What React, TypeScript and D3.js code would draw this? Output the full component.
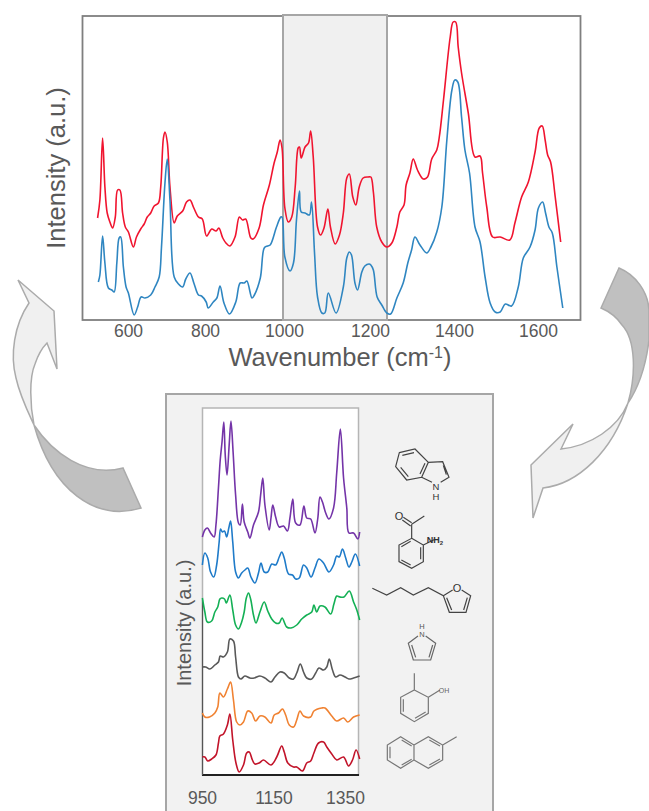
import React, { useEffect, useRef } from 'react';
import * as d3 from 'd3';

// top panel, values
const redWave = [521,527,534,540,546,553,560,567,573,579,586,593,601,614,622,633,642,650,659,668,679,685,692,696,702,709,720,728,742,752,761,771,783,793,804,817,828,835,845,853,863,876,887,895,903,916,922,937,948,963,975,983,990,995,1002,1010,1018,1026,1033,1036,1040,1049,1057,1062,1068,1078,1085,1093,1102,1108,1119,1129,1138,1146,1152,1160,1167,1175,1184,1196,1202,1208,1216,1228,1240,1252,1264,1271,1281,1286,1295,1303,1313,1327,1337,1347,1359,1365,1375,1391,1398,1404,1410,1418,1434,1450,1462,1468,1478,1492,1510,1533,1545,1561,1577,1593,1603,1610,1617,1623,1630,1641,1654];
const redIntensity = [102,120,182,133,107,98,92,103,130,130,107,93,88,73,83,91,96,103,107,114,117,133,182,188,178,133,97,104,109,118,120,112,103,101,84,91,89,92,82,77,74,83,103,100,101,82,81,92,115,135,157,168,180,172,112,98,103,133,172,173,162,173,177,189,163,93,85,92,111,93,76,85,107,142,146,123,115,133,142,143,143,128,93,78,73,77,93,108,115,135,147,161,150,141,143,161,170,183,220,283,298,298,273,247,207,163,164,147,113,83,83,80,97,123,138,168,192,194,180,165,158,123,78];
const blueWave = [523,527,534,540,549,558,564,571,577,581,588,595,601,616,625,634,644,659,670,681,687,696,702,709,720,731,742,750,761,771,783,791,803,808,821,830,838,848,862,878,889,899,906,919,925,940,950,958,965,981,992,995,1002,1014,1022,1029,1036,1040,1049,1059,1064,1071,1078,1088,1095,1103,1121,1138,1146,1152,1157,1165,1171,1181,1188,1198,1202,1208,1217,1228,1240,1249,1264,1279,1290,1299,1307,1319,1335,1345,1359,1371,1383,1395,1402,1409,1418,1426,1437,1450,1462,1474,1486,1498,1510,1522,1537,1553,1565,1581,1593,1601,1611,1618,1626,1634,1645,1659];
const blueIntensity = [38,45,84,57,32,30,28,57,82,83,53,33,27,5,13,23,22,25,33,43,73,137,161,120,43,36,33,41,47,37,25,24,18,12,18,22,34,17,6,18,37,37,39,22,25,42,72,74,75,93,103,103,63,49,57,100,129,108,107,105,118,67,23,7,7,27,7,33,62,68,65,37,30,48,54,56,55,50,23,15,7,6,22,37,57,70,83,75,67,73,88,113,180,230,240,238,203,170,147,93,78,43,17,8,8,16,14,33,62,73,90,112,118,107,93,87,53,12];
const topTicks = [600,800,1000,1200,1400,1600];

// lower panel, stacked spectra
const purpleWave = [951,958,965,974,984,989,996,1001,1006,1011,1015,1020,1026,1031,1037,1044,1052,1057,1063,1068,1078,1084,1094,1108,1114,1120,1126,1138,1143,1148,1156,1166,1178,1189,1196,1204,1212,1224,1235,1243,1254,1266,1274,1280,1287,1296,1305,1318,1327,1337,1346,1355,1361,1374,1386,1391];
const purpleIntensity = [238,245,247,242,238,250,287,315,333,353,320,300,330,354,323,280,252,250,271,253,243,237,250,263,280,297,270,245,257,270,258,248,249,244,257,276,252,250,269,257,256,242,257,278,273,262,256,267,303,346,297,267,242,242,236,243];
const midBlueWave = [951,958,966,974,983,991,998,1002,1007,1013,1019,1025,1030,1036,1044,1052,1061,1070,1078,1087,1098,1108,1115,1124,1134,1145,1156,1166,1173,1180,1192,1203,1212,1222,1234,1243,1255,1266,1277,1290,1305,1318,1327,1334,1343,1352,1361,1369,1379,1391];
const midBlueIntensity = [210,222,217,203,198,210,233,246,243,244,238,247,254,233,203,197,202,205,207,198,192,202,212,203,203,211,210,218,223,217,201,200,196,197,210,207,198,207,216,212,203,210,219,218,226,217,208,213,221,209];
const greenWave = [951,958,965,977,986,994,1000,1005,1013,1018,1028,1036,1044,1052,1061,1068,1074,1080,1086,1094,1101,1112,1124,1134,1145,1156,1166,1174,1187,1199,1215,1229,1243,1257,1263,1271,1280,1294,1310,1319,1327,1336,1347,1362,1374,1383,1391];
const greenIntensity = [177,163,153,154,163,168,176,177,176,172,180,165,150,146,153,163,177,182,176,160,152,163,173,164,156,152,152,157,148,147,150,156,160,163,170,163,169,168,161,171,179,178,178,184,173,165,155];
const grayWave = [951,960,972,986,996,1001,1010,1021,1028,1038,1044,1052,1059,1070,1084,1096,1112,1126,1143,1154,1168,1180,1194,1206,1215,1225,1234,1243,1257,1268,1277,1290,1299,1306,1315,1324,1336,1350,1361,1374,1391];
const grayIntensity = [108,108,106,110,113,119,118,123,136,134,118,98,96,99,97,97,99,97,93,98,103,102,97,96,102,111,103,97,96,102,107,105,108,116,105,98,100,98,96,97,99];
const orangeWave = [951,958,971,986,994,1000,1010,1021,1030,1038,1047,1056,1066,1078,1089,1100,1112,1126,1143,1152,1164,1175,1184,1194,1206,1215,1224,1234,1254,1263,1285,1294,1313,1327,1346,1358,1374,1391];
const orangeIntensity = [62,58,58,62,68,82,78,86,93,75,53,50,53,64,62,54,59,58,52,60,62,66,60,50,48,55,64,59,58,64,67,67,59,54,57,53,58,60];
const darkRedWave = [951,958,966,977,989,996,1000,1010,1021,1028,1036,1045,1054,1066,1075,1082,1091,1098,1110,1122,1143,1159,1173,1180,1190,1206,1215,1231,1243,1254,1263,1276,1290,1299,1313,1327,1346,1360,1371,1381,1391];
const darkRedIntensity = [18,18,14,16,20,32,39,41,50,61,35,12,3,10,22,23,15,11,12,15,10,18,29,23,12,8,8,4,12,14,22,32,33,28,21,15,18,9,15,25,16];
const lowerTicks = [950,1150,1350];

const topX = d3.scaleLinear().domain(topTicks).range([128, 205, 284, 370, 454, 538]);
const topY = d3.scaleLinear().domain([0, 304]).range([320, 16]);
const lowX = d3.scaleLinear().domain([950, 1350]).range([202, 345]);
const lowY = d3.scaleLinear().domain([0, 367]).range([775, 408]);

const topLine = (wave: number[], vals: number[]) =>
  d3.line<number>().x((d) => topX(d)).y((_, i) => topY(vals[i])).curve(d3.curveCatmullRom)(wave) || '';
const lowLine = (wave: number[], vals: number[]) =>
  d3.line<number>().x((d) => lowX(d)).y((_, i) => lowY(vals[i])).curve(d3.curveCatmullRom)(wave) || '';

const lowerSeries: [number[], number[], string][] = [
  [purpleWave, purpleIntensity, '#7434a8'],
  [midBlueWave, midBlueIntensity, '#1f7bc9'],
  [greenWave, greenIntensity, '#14b055'],
  [grayWave, grayIntensity, '#595959'],
  [orangeWave, orangeIntensity, '#f08232'],
  [darkRedWave, darkRedIntensity, '#c2142a'],
];

const textCol = '#595959';
const font = '"Liberation Sans", Arial, sans-serif';

// molecule sketches, in 3x crop units
function Mol({ x, y, d, col = '#444' }: { x: number; y: number; d: string; col?: string }) {
  return (
    <g transform={`translate(${x},${y}) scale(0.3333)`}>
      <path d={d} fill="none" stroke={col} strokeWidth={3.6} />
    </g>
  );
}

export default function App() {
  const topAxis = useRef<SVGGElement>(null);
  const lowAxis = useRef<SVGGElement>(null);

  useEffect(() => {
    const a = d3.select(topAxis.current!)
      .call(d3.axisBottom(topX).tickValues(topTicks).tickSize(0).tickPadding(5).tickFormat(d3.format('d')) as any);
    a.select('.domain').remove();
    a.selectAll('text').attr('font-size', 17.5).attr('font-family', font).attr('fill', textCol);

    const b = d3.select(lowAxis.current!)
      .call(d3.axisBottom(lowX).tickValues(lowerTicks).tickSize(0).tickPadding(17).tickFormat(d3.format('d')) as any);
    b.select('.domain').remove();
    b.selectAll('text').attr('font-size', 17.5).attr('font-family', font).attr('fill', textCol);
  }, []);

  return (
    <svg width={649} height={811} style={{ position: 'absolute', left: 0, top: 0 }} fontFamily={font}>
      {/* arrows */}
      <path d="M18,280 L29,303 C14,325 10,355 16,378 C20,396 28,412 34,425 C30,405 29,378 35,364 C38,355 43,347 47,343 L57,369 L54,311 Z" fill="#f0f0f0" stroke="#ababab" strokeWidth={1.5} />
      <path d="M34,425 C52,452 85,478 123,468 L141,508 C95,522 52,490 34,425 Z" fill="#c0c0c0" stroke="#ababab" strokeWidth={1.5} />
      <path d="M619,268 C636,275 648,292 649,310 L649,340 C646,365 638,388 628,403 C636,375 636,340 622,325 C616,316 608,311 601,308 Z" fill="#c0c0c0" stroke="#ababab" strokeWidth={1.5} />
      <path d="M628,403 C612,452 578,484 543,488 L533,518 L531,465 L573,424 L561,449 C590,446 618,428 628,403 Z" fill="#f0f0f0" stroke="#ababab" strokeWidth={1.5} />

      {/* top panel */}
      <rect x={82.5} y={16} width={498} height={304} fill="#fff" stroke="#7f7f7f" strokeWidth={1.8} />
      <rect x={283} y={15} width={104} height={305} fill="#f0f0f0" stroke="#a6a6a6" strokeWidth={2} />
      <path d={topLine(redWave, redIntensity)} fill="none" stroke="#f0142f" strokeWidth={1.6} />
      <path d={topLine(blueWave, blueIntensity)} fill="none" stroke="#2f86c1" strokeWidth={1.6} />
      <g ref={topAxis} transform="translate(0,320)" />
      <text transform="translate(65,168) rotate(-90)" textAnchor="middle" fontSize={25.5} fill={textCol}>Intensity (a.u.)</text>
      <text x={340} y={366} textAnchor="middle" fontSize={25.5} fill={textCol}>
        Wavenumber (cm<tspan dy={-8} fontSize={16}>-1</tspan><tspan dy={8}>)</tspan>
      </text>

      {/* lower panel */}
      <rect x={166} y={394} width={327} height={430} fill="#f2f2f2" stroke="#a6a6a6" strokeWidth={2} />
      <rect x={202.5} y={408} width={156} height={367} fill="#fff" stroke="#b5b5b5" strokeWidth={1.5} />
      <line x1={202} x2={359} y1={775} y2={775} stroke="#222" strokeWidth={2} />
      <line x1={202.5} x2={202.5} y1={600} y2={775} stroke="#555" strokeWidth={1.2} />
      {lowerSeries.map(([w, v, c], i) => (
        <path key={i} d={lowLine(w, v)} fill="none" stroke={c} strokeWidth={1.6} />
      ))}
      <g ref={lowAxis} transform="translate(0,775)" />
      <text transform="translate(191,623) rotate(-90)" textAnchor="middle" fontSize={20} fill={textCol}>Intensity (a.u.)</text>

      {/* molecules */}
      <Mol x={360} y={430} d="M118,68 L165,57 L205,97 L185,142 L140,150 L107,110 Z M127,76 L162,68 M195,100 L180,132 M122,112 L145,140 M205,97 L248,95 L267,142 L242,157 M216,157 L185,142 M250,106 L259,134" />
      <text x={436} y={490} textAnchor="middle" fontSize={9.5} fill="#333">N</text>
      <text x={436} y={500} textAnchor="middle" fontSize={9.5} fill="#333">H</text>
      <Mol x={360} y={430} d="M130,262 L155,278 M127,270 L152,288 M155,283 L193,258 M155,283 L155,325 M155,325 L190,345 L190,395 L155,415 L117,395 L117,345 Z M182,352 L182,388 M152,405 L124,390 M124,350 L152,334 M190,345 L225,328" />
      <text x={399} y={520} textAnchor="middle" fontSize={11} fill="#333">O</text>
      <text x={435} y={543} textAnchor="middle" fontSize={9} fontWeight="bold" fill="#333">NH<tspan dy={2} fontSize={6}>2</tspan></text>
      <Mol x={360} y={430} d="M37,475 L80,495 L122,473 L160,495 L205,473 L250,497 L268,547 L318,547 L332,497 L305,480 M250,497 L278,480 M260,503 L275,540 M322,503 L311,540" />
      <text x={457} y={592} textAnchor="middle" fontSize={11} fill="#333">O</text>
      <Mol x={360} y={610} col="#666" d="M174,78 L145,100 L160,150 L212,150 L227,100 L197,78 M155,105 L167,142 M218,105 L207,142" />
      <text x={422} y={637} textAnchor="middle" fontSize={7.5} fill="#555">N</text>
      <text x={422} y={629} textAnchor="middle" fontSize={7.5} fill="#555">H</text>
      <Mol x={360} y={610} col="#777" d="M163,190 L163,240 M163,240 L205,262 L205,310 L163,335 L122,310 L122,262 Z M130,268 L130,305 M165,325 L197,306 M205,262 L240,240" />
      <text x={444} y={693} textAnchor="middle" fontSize={7} fill="#666">OH</text>
      <Mol x={360} y={610} col="#777" d="M122,380 L162,405 L162,450 L122,475 L82,450 L82,405 Z M90,410 L90,445 M125,390 L155,408 M125,465 L155,448 M162,405 L205,380 L248,405 L248,450 L205,475 L162,450 M208,390 L240,408 M208,465 L240,447 M248,405 L290,380" />
    </svg>
  );
}
